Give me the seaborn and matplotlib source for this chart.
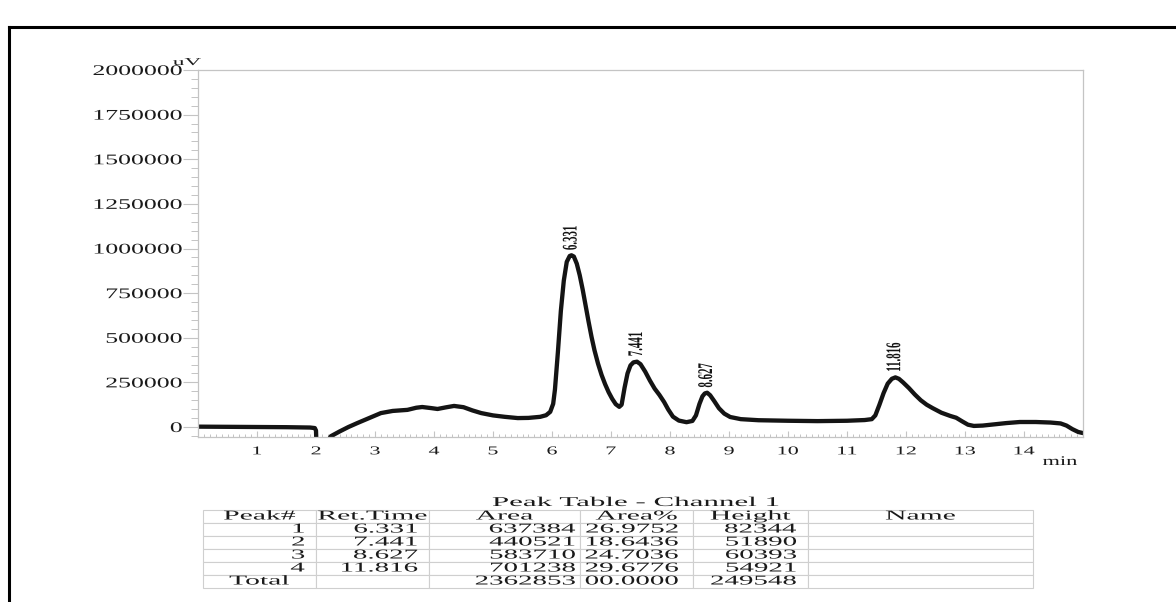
import matplotlib
matplotlib.use("Agg")
import matplotlib.pyplot as plt
import seaborn as sns
import numpy as np
from matplotlib.patheffects import AbstractPathEffect
from matplotlib.transforms import Affine2D
from matplotlib.ticker import MultipleLocator, FixedLocator, FixedFormatter
from matplotlib.lines import Line2D

# ---- chromatogram trace: retention time (min) and detector signal (uV) ----
time_min = [
    0.00, 0.50, 1.00, 1.50, 1.90, 1.98, 2.00, 2.01, 2.03, 2.15,
    2.25, 2.40, 2.55, 2.70, 2.90, 3.10, 3.30, 3.55, 3.70, 3.80,
    3.95, 4.06, 4.20, 4.34, 4.50, 4.65, 4.80, 5.00, 5.20, 5.42,
    5.60, 5.80, 5.90, 5.97, 6.02, 6.05, 6.10, 6.15, 6.20, 6.25,
    6.30, 6.33, 6.37, 6.42, 6.47, 6.52, 6.57, 6.62, 6.67, 6.72,
    6.78, 6.84, 6.90, 6.96, 7.02, 7.08, 7.14, 7.18, 7.23, 7.28,
    7.33, 7.38, 7.44, 7.50, 7.58, 7.66, 7.74, 7.82, 7.90, 7.97,
    8.05, 8.15, 8.28, 8.38, 8.44, 8.50, 8.55, 8.59, 8.63, 8.68,
    8.75, 8.83, 8.92, 9.02, 9.20, 9.50, 10.00, 10.50, 11.00, 11.30,
    11.42, 11.48, 11.55, 11.62, 11.69, 11.76, 11.82, 11.88, 11.95, 12.05,
    12.15, 12.25, 12.35, 12.45, 12.60, 12.75, 12.85, 12.95, 13.05, 13.15,
    13.30, 13.50, 13.70, 13.93, 14.20, 14.45, 14.62, 14.72, 14.82, 14.92,
    15.00,
]
signal_uv = [
    2000, 1000, 0, -1000, -3000, -6000, -20000, -120000, -150000, -110000,
    -52000, -25000, 0, 22000, 50000, 78000, 90000, 96000, 108000, 112000,
    106000, 101000, 110000, 118000, 111000, 93000, 78000, 65000, 57000, 50000,
    51000, 57000, 66000, 85000, 130000, 210000, 420000, 650000, 820000, 925000,
    958000, 962000, 955000, 915000, 850000, 770000, 680000, 590000, 505000, 430000,
    355000, 292000, 240000, 195000, 158000, 128000, 113000, 125000, 220000, 300000,
    345000, 362000, 366000, 352000, 310000, 260000, 215000, 180000, 140000, 98000,
    58000, 36000, 27000, 34000, 65000, 130000, 172000, 188000, 192000, 178000,
    145000, 105000, 75000, 56000, 44000, 38000, 35000, 33000, 35000, 39000,
    44000, 65000, 125000, 190000, 243000, 270000, 278000, 270000, 250000, 218000,
    182000, 150000, 125000, 106000, 80000, 62000, 52000, 32000, 13000, 6000,
    8000, 15000, 22000, 28000, 28000, 25000, 20000, 8000, -12000, -28000,
    -34000,
]

# ---- peak table ----
peak_no = ["1", "2", "3", "4"]
ret_time = [6.331, 7.441, 8.627, 11.816]
peak_area = [637384, 440521, 583710, 701238]
area_pct = ["26.9752", "18.6436", "24.7036", "29.6776"]
peak_height = [82344, 51890, 60393, 54921]
total_area = 2362853
total_pct = "00.0000"
total_height = 249548
table_header = ["Peak#", "Ret.Time", "Area", "Area%", "Height", "Name"]

y_ticks = [0, 250000, 500000, 750000, 1000000, 1250000, 1500000, 1750000, 2000000]
x_ticks = list(range(1, 15))


class Stretch(AbstractPathEffect):
    """Scale a text path along its writing direction, keeping one anchor fixed."""

    def __init__(self, sx, anchor=0.0):
        super().__init__()
        self._sx = sx
        self._anchor = anchor

    def draw_path(self, renderer, gc, tpath, affine, rgbFace=None):
        ext = tpath.get_extents()
        x0 = ext.x0 + self._anchor * ext.width
        pre = Affine2D().translate(-x0, 0).scale(self._sx, 1.0).translate(x0, 0)
        renderer.draw_path(gc, tpath, pre + affine, rgbFace)


W, H = 1176, 602
sns.set_style("white")
plt.rcParams["font.family"] = ["Liberation Serif", "DejaVu Serif"]
plt.rcParams["text.color"] = "#1a1a1a"

fig = plt.figure(figsize=(W / 100, H / 100), dpi=100)
fig.patch.set_facecolor("white")

ax = fig.add_axes([198 / W, 1 - 437 / H, (1083 - 198) / W, (437 - 70) / H])
sns.lineplot(x=time_min, y=signal_uv, ax=ax, color="#141414", lw=3.1,
             sort=False, estimator=None, solid_joinstyle="round",
             solid_capstyle="round")
ax.set_xlim(0, 15)
ax.set_ylim(-56000, 2000000)
ax.set_xlabel("")
ax.set_ylabel("")

grey = "#c4c4c4"
for sp in ax.spines.values():
    sp.set_visible(True)
    sp.set_color(grey)
    sp.set_linewidth(0.9)

ax.yaxis.set_major_locator(FixedLocator(y_ticks))
ax.yaxis.set_major_formatter(FixedFormatter([str(v) for v in y_ticks]))
ax.yaxis.set_minor_locator(MultipleLocator(50000))
ax.xaxis.set_major_locator(FixedLocator(x_ticks))
ax.xaxis.set_major_formatter(FixedFormatter([str(v) for v in x_ticks]))
ax.xaxis.set_minor_locator(MultipleLocator(0.1))

ax.tick_params(axis="y", which="major", direction="out", length=10.8, width=0.8,
               color=grey, pad=0.5, labelsize=10.6, labelcolor="#1a1a1a", left=True)
ax.tick_params(axis="y", which="minor", direction="out", length=5, width=0.7,
               color=grey, left=True)
ax.tick_params(axis="x", which="major", direction="in", length=4, width=0.8,
               color=grey, pad=6, labelsize=8.6, labelcolor="#1a1a1a", bottom=True)
ax.tick_params(axis="x", which="minor", direction="in", length=2.5, width=0.7,
               color=grey, bottom=True)

for lbl in ax.get_yticklabels():
    lbl.set_path_effects([Stretch(1.75, anchor=1.0)])
for lbl in ax.get_xticklabels():
    lbl.set_path_effects([Stretch(1.85, anchor=0.5)])

# unit labels
ax.text(-0.0124, 1.0136, "uV", transform=ax.transAxes, ha="center", va="baseline",
        fontsize=7.6, path_effects=[Stretch(2.2, anchor=0.5)])
fig.text(1060 / W, 1 - 462 / H, "min", ha="center", va="center", fontsize=9.5,
         path_effects=[Stretch(1.7, anchor=0.5)])

# retention-time labels above each apex
t_arr = np.array(time_min)
s_arr = np.array(signal_uv)
for rt in ret_time:
    win = (t_arr > rt - 0.2) & (t_arr < rt + 0.2)
    apex = s_arr[win].max()
    ax.annotate(f"{rt:.3f}", xy=(rt, apex), xytext=(0, 3.5), textcoords="offset points",
                rotation=90, ha="center", va="bottom", fontsize=15, fontweight="bold",
                color="#141414", path_effects=[Stretch(0.52, anchor=0.0)])

# ---- peak table ----
fig.text(636 / W, 1 - 506 / H, "Peak Table - Channel 1", ha="center", va="baseline",
         fontsize=9.7, path_effects=[Stretch(2.3, anchor=0.5)])

rows = [table_header]
for i in range(len(peak_no)):
    rows.append([peak_no[i], f"{ret_time[i]:.3f}", str(peak_area[i]), area_pct[i],
                 str(peak_height[i]), ""])
rows.append(["Total", "", str(total_area), total_pct, str(total_height), ""])

col_px = [113, 113, 151, 113, 115, 225]
tax = fig.add_axes([203 / W, 1 - 588 / H, sum(col_px) / W, 78 / H])
tax.axis("off")
tbl = tax.table(cellText=rows, colWidths=[c / sum(col_px) for c in col_px],
                bbox=[0, 0, 1, 1], cellLoc="right")
tbl.auto_set_font_size(False)
tbl.set_fontsize(9.7)
right_pad = [0.10, 0.10, 0.03, 0.13, 0.10, 0.10]
for (r, c), cell in tbl.get_celld().items():
    cell.set_edgecolor("#cfcfcf")
    cell.set_linewidth(0.8)
    txt = cell.get_text()
    txt.set_color("#1a1a1a")
    if r == 0 or (r == len(rows) - 1 and c == 0):
        cell._loc = "center"
        txt.set_horizontalalignment("center")
        txt.set_path_effects([Stretch(2.2, anchor=0.5)])
    else:
        cell.PAD = right_pad[c]
        txt.set_path_effects([Stretch(2.15, anchor=1.0)])

# page frame lines
fig.add_artist(Line2D([8.5 / W, 8.5 / W], [0, 1 - 27 / H], transform=fig.transFigure,
                      color="black", lw=2.2, solid_capstyle="projecting"))
fig.add_artist(Line2D([8.5 / W, 1.0], [1 - 27 / H, 1 - 27 / H], transform=fig.transFigure,
                      color="black", lw=2.2, solid_capstyle="projecting"))

fig.savefig("out.png", dpi=100, facecolor="white")
